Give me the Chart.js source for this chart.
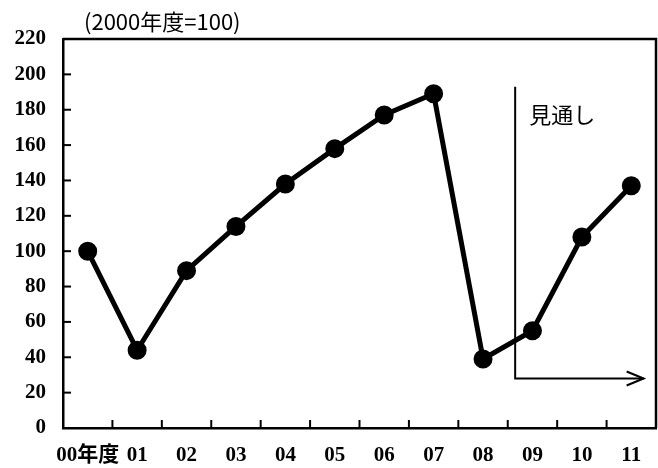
<!DOCTYPE html>
<html><head><meta charset="utf-8">
<script src="https://cdn.jsdelivr.net/npm/chart.js@4"></script>
<style>html,body{margin:0;padding:0;background:#fff}#wrap{width:658px;height:468px}</style>
</head><body><div id="wrap"><canvas id="c" width="658" height="468"></canvas></div>
<script>
const categories = ['00年度','01','02','03','04','05','06','07','08','09','10','11'];
const indexValues = [100, 44, 89, 114, 138, 158, 177, 189, 39, 55, 108, 137];
const yTickValues = [0,20,40,60,80,100,120,140,160,180,200,220];
const unitNote = '(2000年度=100)';
const forecastLabel = '見通し';

const tickFont = {family:'"Liberation Serif", "Noto Sans CJK JP", serif', size:21, weight:'bold'};

const decor = {
  id:'decor',
  afterDraw(chart){
    const {ctx, chartArea:a, scales:{x,y}} = chart;
    ctx.save();
    ctx.strokeStyle='#000';
    ctx.lineWidth=2.5;
    ctx.beginPath();
    ctx.moveTo(a.left,a.top);ctx.lineTo(a.right,a.top);ctx.lineTo(a.right,a.bottom);
    ctx.stroke();
    ctx.lineWidth=2;
    y.ticks.forEach(t=>{
      if(t.value===0||t.value===220) return;
      const py=y.getPixelForValue(t.value);
      ctx.beginPath();ctx.moveTo(a.left,py);ctx.lineTo(a.left+8,py);ctx.stroke();
    });
    for(let i=0;i<categories.length-1;i++){
      const px=(x.getPixelForValue(i)+x.getPixelForValue(i+1))/2;
      ctx.beginPath();ctx.moveTo(px,a.bottom);ctx.lineTo(px,a.bottom-8);ctx.stroke();
    }
    const step=x.getPixelForValue(1)-x.getPixelForValue(0);
    const gx=x.getPixelForValue(8)+step*0.65;
    const gTop=y.getPixelForValue(193), gBot=y.getPixelForValue(28);
    const gEnd=x.getPixelForValue(11)+step*0.25;
    ctx.lineWidth=2;
    ctx.beginPath();ctx.moveTo(gx,gTop);ctx.lineTo(gx,gBot);ctx.lineTo(gEnd,gBot);ctx.stroke();
    ctx.beginPath();ctx.moveTo(gEnd-17,gBot-7);ctx.lineTo(gEnd,gBot);ctx.lineTo(gEnd-17,gBot+7);ctx.stroke();
    ctx.fillStyle='#000';
    ctx.textBaseline='middle';
    ctx.textAlign='left';
    ctx.font='22px "Noto Sans CJK JP", sans-serif';
    ctx.fillText(forecastLabel, gx+14, y.getPixelForValue(177));
    ctx.font='22px "Noto Sans CJK JP", sans-serif';
    ctx.fillText(unitNote, a.left+21, a.top-17);
    ctx.restore();
  }
};

new Chart(document.getElementById('c'),{
  type:'line',
  data:{labels:categories,datasets:[{
    data:indexValues,borderColor:'#000',backgroundColor:'#000',borderWidth:5,
    pointRadius:7,pointHoverRadius:7,pointBackgroundColor:'#000',pointBorderColor:'#000',
    tension:0,fill:false
  }]},
  options:{
    responsive:false,animation:false,
    layout:{autoPadding:false,padding:{top:39,right:2,left:0,bottom:0}},
    plugins:{legend:{display:false},tooltip:{enabled:false},title:{display:false}},
    scales:{
      x:{type:'category',offset:true,
        grid:{display:true,drawOnChartArea:false,drawTicks:false,offset:true},
        border:{display:true,color:'#000',width:2.5},
        ticks:{color:'#000',font:{family:'"Liberation Serif","Noto Sans CJK JP",serif',size:21,weight:'bold'},padding:15,maxRotation:0,autoSkip:false},
        afterFit(s){s.height=40;s.paddingLeft=0;s.paddingRight=0;}
      },
      y:{min:0,max:220,
        afterBuildTicks(s){s.ticks=yTickValues.map(v=>({value:v}));},
        grid:{display:true,drawOnChartArea:false,drawTicks:false},
        border:{display:true,color:'#000',width:2.5},
        ticks:{color:'#000',font:tickFont,padding:17},
        afterFit(s){s.width=63;s.paddingTop=0;s.paddingBottom=0;}
      }
    }
  },
  plugins:[decor]
});
</script></body></html>
